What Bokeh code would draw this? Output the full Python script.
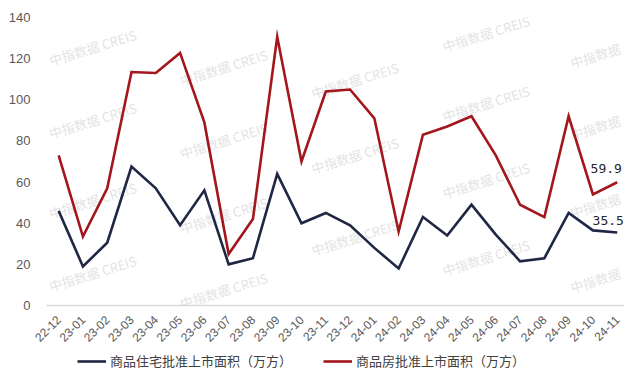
from bokeh.plotting import figure
from bokeh.layouts import column
from bokeh.models import Range1d, FixedTicker, Legend, LegendItem, ColumnDataSource
from bokeh.core.properties import value
from bokeh.embed import file_html
from bokeh.resources import INLINE
import math

months = ["22-12", "23-01", "23-02", "23-03", "23-04", "23-05", "23-06", "23-07",
          "23-08", "23-09", "23-10", "23-11", "23-12", "24-01", "24-02", "24-03",
          "24-04", "24-05", "24-06", "24-07", "24-08", "24-09", "24-10", "24-11"]
residential = [46, 19, 30.5, 67.5, 57, 39, 56, 20, 23, 64, 40, 45, 39, 28, 18, 43,
               34, 49, 34.5, 21.5, 23, 45, 36.5, 35.5]
commercial = [73, 33.5, 57, 113.5, 113, 122.8, 89, 25, 42, 130.6, 70, 104, 105, 91,
              36, 83, 87, 92, 73, 49, 43, 92, 54, 59.9]
series_names = ["商品住宅批准上市面积（万方）", "商品房批准上市面积（万方）"]
y_ticks = [0, 20, 40, 60, 80, 100, 120, 140]

# watermark grid (x index, y value, text)
wm_x = [1.4, 1.4, 1.4, 1.4, 6.8, 6.8, 6.8, 6.8, 12.2, 12.2, 12.2,
        17.6, 17.6, 17.6, 17.6, 22.1, 22.1, 22.1, 22.1]
wm_y = [125.4, 89.9, 51.0, 15.6, 115.7, 80.2, 43.8, 7.3, 109.4, 72.9, 33.1,
        132.2, 98.2, 60.8, 23.3, 121.5, 86.5, 48.6, 12.2]
wm_t = ["中指数据 CREIS"] * 15 + ["中指数据"] * 4

BLUE = "#1F2744"
RED = "#A3161B"

idx = list(range(len(months)))

p = figure(width=624, height=352, x_range=Range1d(-0.5, len(months) - 0.7),
           y_range=Range1d(0, 140), output_backend="svg", toolbar_location=None,
           min_border_left=46, min_border_right=0, min_border_top=17,
           min_border_bottom=47)
p.outline_line_color = None
p.grid.grid_line_color = None
p.background_fill_color = "white"

p.text(x=wm_x, y=wm_y, text=wm_t, angle=0.30,
       text_font=value("Noto Sans CJK SC"), text_font_size="13px",
       text_color="#d9d9d9", text_alpha=0.75, text_align="center",
       text_baseline="middle")

r1 = p.line(idx, residential, line_color=BLUE, line_width=2.6, line_join="miter")
r2 = p.line(idx, commercial, line_color=RED, line_width=2.6, line_join="miter")

lab = ColumnDataSource(dict(x=[idx[-1], idx[-1]], y=[commercial[-1], residential[-1]],
                            t=[f"{commercial[-1]}", f"{residential[-1]}"],
                            xo=[-11, -9], yo=[-9, -7]))
p.text(x="x", y="y", text="t", x_offset="xo", y_offset="yo", source=lab,
       text_font=value("DejaVu Sans Mono"), text_font_size="13px",
       text_color="#262626", text_align="center", text_baseline="bottom")

xa = p.xaxis[0]
xa.ticker = FixedTicker(ticks=idx)
xa.major_label_overrides = {i: m for i, m in enumerate(months)}
xa.major_label_orientation = math.pi / 4
xa.major_label_text_font = "Liberation Sans"
xa.major_label_text_font_size = "12px"
xa.major_label_text_color = "#595959"
xa.axis_line_color = "#d9d9d9"
xa.axis_line_width = 1.5
xa.major_tick_line_color = None
xa.minor_tick_line_color = None
xa.major_label_standoff = 6

ya = p.yaxis[0]
ya.ticker = FixedTicker(ticks=y_ticks)
ya.axis_line_color = None
ya.major_tick_line_color = None
ya.minor_tick_line_color = None
ya.major_label_text_font = "Liberation Sans"
ya.major_label_text_font_size = "13px"
ya.major_label_text_color = "#595959"
ya.major_label_standoff = 10

# legend strip
lf = figure(width=624, height=20, x_range=Range1d(0, 1), y_range=Range1d(0, 1),
            output_backend="svg", toolbar_location=None,
            x_axis_location=None, y_axis_location=None,
            min_border=0, min_border_left=0, min_border_right=0,
            min_border_top=0, min_border_bottom=0)
lf.outline_line_color = None
lf.grid.grid_line_color = None
l1 = lf.line(x=[idx[0]], y=[residential[0]], line_color=BLUE, line_width=2.6)
l2 = lf.line(x=[idx[0]], y=[commercial[0]], line_color=RED, line_width=2.6)
legend = Legend(items=[LegendItem(label=series_names[0], renderers=[l1]),
                       LegendItem(label=series_names[1], renderers=[l2])],
                orientation="horizontal", location=(31, 2), margin=0, padding=0,
                spacing=31, glyph_width=29, glyph_height=16, label_height=16,
                label_standoff=4,
                label_text_font="Noto Sans CJK SC", label_text_font_size="13px",
                label_text_color="#404040", border_line_color=None,
                background_fill_alpha=0)
lf.add_layout(legend, "center")

layout = column(p, lf, spacing=0)
open("out.html", "w").write(file_html(layout, INLINE))
